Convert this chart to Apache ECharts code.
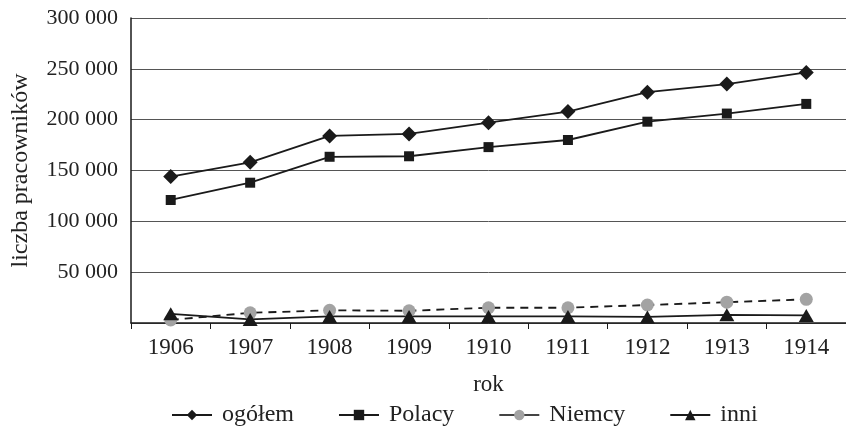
<!DOCTYPE html>
<html>
<head>
<meta charset="utf-8">
<script src="https://cdn.jsdelivr.net/npm/echarts@6/dist/echarts.min.js"></script>
<style>
  html, body { margin: 0; padding: 0; background: #fff; }
  #chart { width: 846px; height: 434px; }
</style>
</head>
<body>
<div id="chart"></div>
<script>
// lata
const years = ['1906', '1907', '1908', '1909', '1910', '1911', '1912', '1913', '1914']
// liczba pracowników wg grup
const ogolem = [144000, 158000, 184000, 186000, 197000, 208000, 227000, 235000, 246500]
const polacy = [121000, 138000, 163500, 164000, 173000, 180000, 198000, 206000, 215500]
const niemcy = [3000, 10000, 12500, 12000, 15000, 15000, 17700, 20500, 23300]
const inni = [9000, 3500, 6500, 6500, 6500, 6500, 6000, 8000, 7500]

const font = "'Liberation Serif', serif"
const ink = '#1a1a1a'

const fmt = (v) => {
  if (v === 0) return ''
  const s = String(v)
  return s.slice(0, s.length - 3) + ' ' + s.slice(-3)
}

const myChart = echarts.init(document.getElementById('chart'))
myChart.setOption({
  animation: false,
  textStyle: { fontFamily: font, color: '#222' },
  grid: { left: 131, top: 18, width: 724, height: 305 },
  xAxis: {
    type: 'category',
    data: years,
    name: 'rok',
    nameLocation: 'middle',
    nameGap: 50,
    nameTextStyle: { fontFamily: font, fontSize: 23, color: '#222' },
    axisLine: { lineStyle: { color: ink, width: 1.5 } },
    axisTick: { show: true, inside: false, length: 6, lineStyle: { color: ink } },
    axisLabel: { fontFamily: font, fontSize: 23, color: '#222', margin: 13 }
  },
  yAxis: {
    type: 'value',
    min: 0,
    max: 300000,
    interval: 50000,
    name: 'liczba pracowników',
    nameLocation: 'middle',
    nameGap: 98,
    nameTextStyle: { fontFamily: font, fontSize: 24, color: '#222' },
    axisLine: { show: true, lineStyle: { color: ink, width: 1.5 } },
    axisTick: { show: false },
    axisLabel: { fontFamily: font, fontSize: 22, color: '#222', margin: 13, formatter: fmt },
    splitLine: { show: true, lineStyle: { color: '#555', width: 1 } }
  },
  legend: {
    bottom: 2,
    left: 166,
    itemGap: 44,
    itemWidth: 40,
    itemHeight: 13,
    textStyle: { fontFamily: font, fontSize: 24, color: '#222', padding: [0, 0, 0, 5] },
    data: [
      { name: 'ogółem' },
      { name: 'Polacy' },
      { name: 'Niemcy', lineStyle: { type: 'solid', color: '#444' } },
      { name: 'inni' }
    ]
  },
  series: [
    {
      name: 'ogółem',
      type: 'line',
      data: ogolem,
      symbol: 'diamond',
      symbolSize: 15,
      itemStyle: { color: ink },
      lineStyle: { color: ink, width: 1.8 }
    },
    {
      name: 'Polacy',
      type: 'line',
      data: polacy,
      symbol: 'rect',
      symbolSize: 10,
      itemStyle: { color: ink },
      lineStyle: { color: ink, width: 1.8 }
    },
    {
      name: 'Niemcy',
      type: 'line',
      data: niemcy,
      symbol: 'circle',
      symbolSize: 13,
      itemStyle: { color: '#a3a3a3' },
      lineStyle: { color: ink, width: 1.8, type: [8, 6] }
    },
    {
      name: 'inni',
      type: 'line',
      data: inni,
      symbol: 'triangle',
      symbolSize: [15, 13],
      itemStyle: { color: ink },
      lineStyle: { color: ink, width: 1.8 }
    }
  ]
})
</script>
</body>
</html>
